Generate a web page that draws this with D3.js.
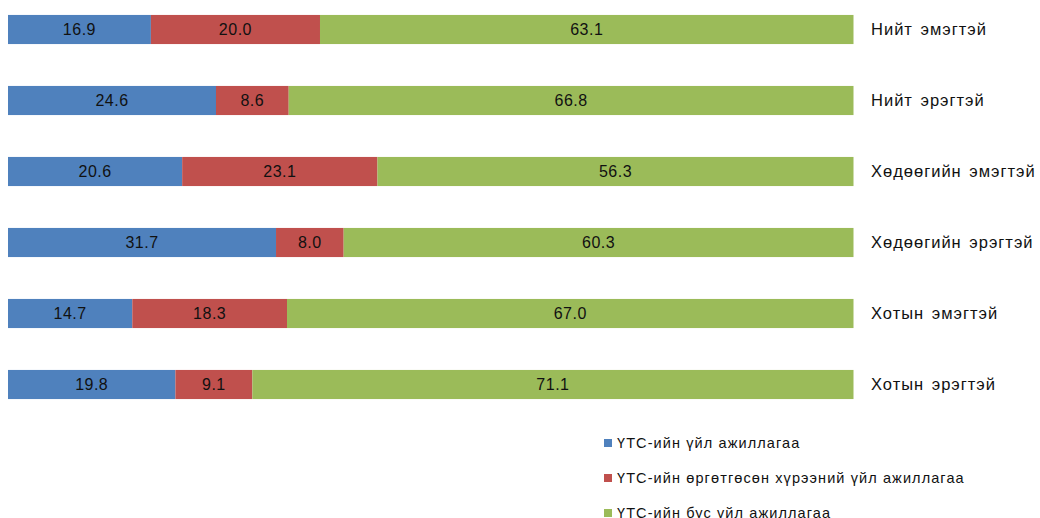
<!DOCTYPE html>
<html>
<head>
<meta charset="UTF-8">
<title></title>
<style>
    body { margin: 0; background: #fff; font-family: 'Liberation Sans', Arial, sans-serif; }
    .val { font-size: 16px; letter-spacing: 0.5px; text-anchor: middle; fill: #111; }
    .cat { font-size: 16.5px; letter-spacing: 1px; word-spacing: 2px; fill: #111; }
    .legend text { font-size: 14.5px; letter-spacing: 1.1px; fill: #111; }
</style>
</head>
<body>
<script src="https://d3js.org/d3.v7.min.js"></script>
<script>
// data
var categories = ["Нийт эмэгтэй", "Нийт эрэгтэй", "Хөдөөгийн эмэгтэй", "Хөдөөгийн эрэгтэй", "Хотын эмэгтэй", "Хотын эрэгтэй"];
var seriesNames = ["ҮТС-ийн үйл ажиллагаа", "ҮТС-ийн өргөтгөсөн хүрээний үйл ажиллагаа", "ҮТС-ийн бус үйл ажиллагаа"];
var inSns = [16.9, 24.6, 20.6, 31.7, 14.7, 19.8];
var extended = [20.0, 8.6, 23.1, 8.0, 18.3, 9.1];
var nonSns = [63.1, 66.8, 56.3, 60.3, 67.0, 71.1];
var colors = ["#4F81BD", "#C0504D", "#9BBB59"];

var width = 1040, height = 518;
var svg = d3.select("body").append("svg")
    .attr("width", width)
    .attr("height", height);

var rows = categories.map(function(c, i) {
    return { cat: c, a: inSns[i], b: extended[i], c: nonSns[i] };
});
var stack = d3.stack().keys(["a", "b", "c"]);
var layers = stack(rows);

var x = d3.scaleLinear().domain([0, 100]).range([8, 853.5]);
var y = d3.scaleBand().domain(categories).range([-6, 420]).paddingInner(0.59).paddingOuter(0.295);

var g = svg.selectAll("g.layer")
    .data(layers)
    .enter().append("g")
    .attr("class", "layer")
    .attr("fill", function(d, i) { return colors[i]; });

g.selectAll("rect")
    .data(function(d) { return d; })
    .enter().append("rect")
    .attr("x", function(d) { return x(d[0]); })
    .attr("y", function(d) { return y(d.data.cat); })
    .attr("width", function(d) { return x(d[1]) - x(d[0]); })
    .attr("height", y.bandwidth());

g.selectAll("text")
    .data(function(d) { return d; })
    .enter().append("text")
    .attr("class", "val")
    .attr("x", function(d) { return (x(d[0]) + x(d[1])) / 2; })
    .attr("y", function(d) { return y(d.data.cat) + y.bandwidth() / 2; })
    .attr("dy", "0.35em")
    .text(function(d) { return (d[1] - d[0]).toFixed(1); });

// category labels on right
svg.selectAll("text.cat")
    .data(categories)
    .enter().append("text")
    .attr("class", "cat")
    .attr("x", 871)
    .attr("y", function(d) { return y(d) + y.bandwidth() / 2; })
    .attr("dy", "0.35em")
    .text(function(d) { return d; });

// legend
var legend = svg.append("g").attr("class", "legend")
    .attr("transform", "translate(604,443)");
var li = legend.selectAll("g")
    .data(seriesNames)
    .enter().append("g")
    .attr("transform", function(d, i) { return "translate(0," + (i * 35) + ")"; });
li.append("rect")
    .attr("x", 0).attr("y", -4)
    .attr("width", 8).attr("height", 8)
    .attr("fill", function(d, i) { return colors[i]; });
li.append("text")
    .attr("x", 13)
    .attr("dy", "0.35em")
    .text(function(d) { return d; });
</script>
</body>
</html>
